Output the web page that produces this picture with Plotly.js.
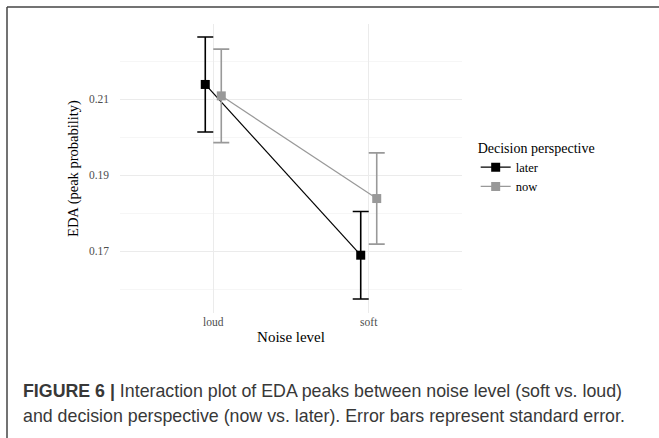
<!DOCTYPE html>
<html>
<head>
<meta charset="utf-8">
<script src="https://cdn.plot.ly/plotly-3.0.1.min.js"></script>
<style>
html,body{margin:0;padding:0;background:#fff;}
#chart{width:659px;height:438px;}
</style>
</head>
<body>
<div id="chart"></div>
<script>
// Data
const noiseLevels = ['loud', 'soft'];
const laterMeans = [0.2139, 0.1690];
const laterSE = [0.0125, 0.0115];
const nowMeans = [0.2109, 0.1839];
const nowSE = [0.0123, 0.0120];
const yTickVals = [0.17, 0.19, 0.21];
const yTickText = ['0.17', '0.19', '0.21'];

const serif = 'Liberation Serif, Times New Roman, serif';
const sans = 'Liberation Sans, Arial, sans-serif';

const traces = [
  {
    name: 'later', x: noiseLevels, y: laterMeans, type: 'scatter', mode: 'lines+markers',
    line: {color: '#000000', width: 1.2},
    marker: {symbol: 'square', size: 9, color: '#000000'},
    error_y: {type: 'data', array: laterSE, visible: true, color: '#000000', thickness: 1.6, width: 8},
    offsetgroup: 'later'
  },
  {
    name: 'now', x: noiseLevels, y: nowMeans, type: 'scatter', mode: 'lines+markers',
    line: {color: '#999999', width: 1.2},
    marker: {symbol: 'square', size: 9, color: '#999999'},
    error_y: {type: 'data', array: nowSE, visible: true, color: '#999999', thickness: 1.6, width: 8},
    offsetgroup: 'now'
  }
];

const layout = {
  width: 659, height: 438,
  margin: {l: 120, r: 197, t: 24, b: 125},
  paper_bgcolor: '#ffffff', plot_bgcolor: '#ffffff',
  scattermode: 'group', scattergap: 0.794,
  showlegend: true,
  xaxis: {
    type: 'category', categoryorder: 'array', categoryarray: noiseLevels,
    range: [-0.6, 1.6], showgrid: true, gridcolor: '#ebebeb', gridwidth: 1.1,
    zeroline: false, showline: false, ticks: '',
    tickfont: {family: serif, size: 11.5, color: '#4d4d4d'},
    title: {text: 'Noise level', font: {family: serif, size: 15, color: '#000000'}, standoff: 4}
  },
  yaxis: {
    range: [0.1538, 0.2298], tickvals: yTickVals, ticktext: yTickText,
    showgrid: true, gridcolor: '#ebebeb', gridwidth: 1.1,
    minor: {dtick: 0.01, tick0: 0.16, showgrid: true, gridcolor: '#f0f0f0', gridwidth: 0.6},
    zeroline: false, showline: false, ticks: '', ticklabelstandoff: 10,
    tickfont: {family: serif, size: 11.5, color: '#4d4d4d'},
    title: {text: 'EDA (peak probability)', font: {family: serif, size: 14.5, color: '#000000'}, standoff: 6}
  },
  legend: {
    x: 1.04, xanchor: 'left', y: 0.618, yanchor: 'top',
    bgcolor: 'rgba(0,0,0,0)', itemwidth: 30, tracegroupgap: 0,
    font: {family: serif, size: 12.5, color: '#000000'},
    title: {text: 'Decision perspective', font: {family: serif, size: 14, color: '#000000'}}
  },
  shapes: [
    {type: 'line', xref: 'paper', yref: 'paper', x0: -0.3304, x1: 2, y0: 1.0589, y1: 1.0589, line: {color: '#444444', width: 1.5}},
    {type: 'line', xref: 'paper', yref: 'paper', x0: -0.3304, x1: -0.3304, y0: 1.0589, y1: -1, line: {color: '#444444', width: 1.5}}
  ],
  annotations: [
    {xref: 'paper', yref: 'paper', x: -0.289, y: -0.27, xanchor: 'left', yanchor: 'middle', showarrow: false, align: 'left',
     text: '<b>FIGURE 6 |</b> Interaction plot of EDA peaks between noise level (soft vs. loud)',
     font: {family: sans, size: 17.8, color: '#383838'}},
    {xref: 'paper', yref: 'paper', x: -0.289, y: -0.356, xanchor: 'left', yanchor: 'middle', showarrow: false, align: 'left',
     text: 'and decision perspective (now vs. later). Error bars represent standard error.',
     font: {family: sans, size: 17.8, color: '#383838'}}
  ]
};

Plotly.newPlot('chart', traces, layout, {displayModeBar: false, staticPlot: true});
</script>
</body>
</html>
